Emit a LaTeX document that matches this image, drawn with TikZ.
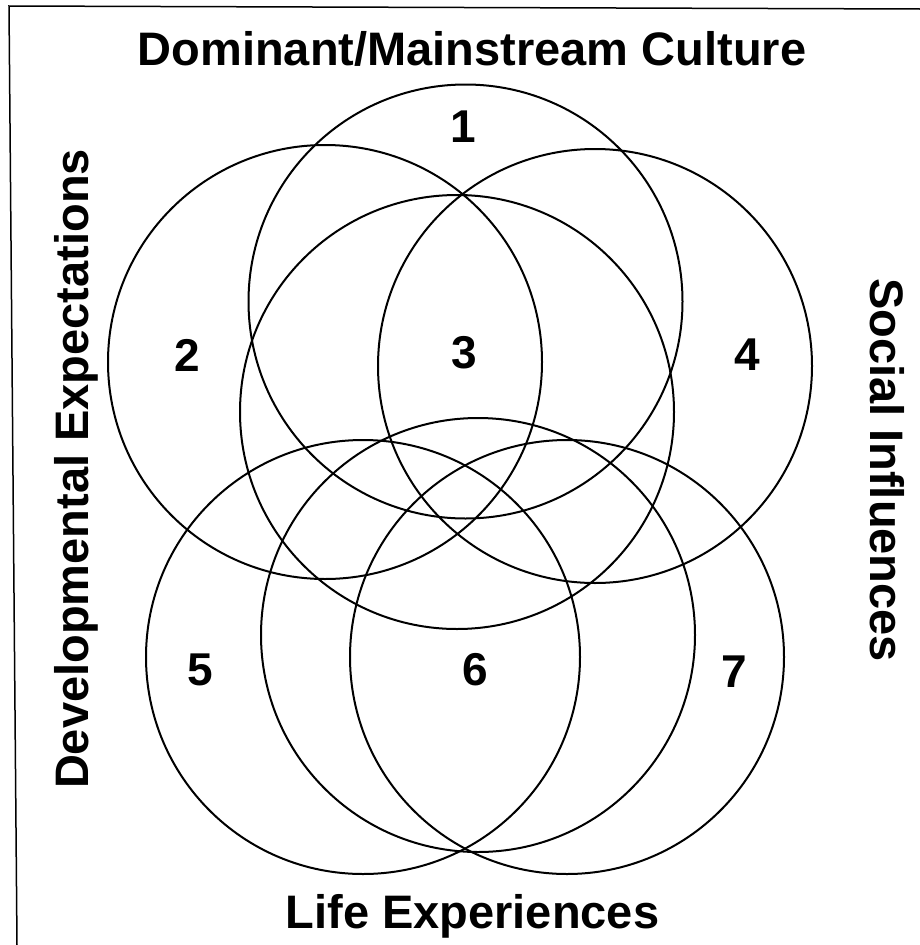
\documentclass[tikz,border=0pt]{standalone}
\usepackage{fontspec}
\setmainfont{Liberation Sans}
\usepackage{tikz}

\tikzset{
  venn/.style={shape=circle,draw,line width=2pt,minimum size=434pt,inner sep=0pt},
  region/.style={font=\fontsize{46}{46}\selectfont\bfseries,inner sep=0pt},
  heading/.style={font=\fontsize{47}{47}\selectfont\bfseries,anchor=base,inner sep=0pt},
}

\begin{document}
\begin{tikzpicture}[x=1pt,y=-1pt]
\useasboundingbox (0,0) rectangle (920,945);
% frame, only the top and left edge show
\coordinate (frametl) at (9,6);
\coordinate (framebl) at (17,945);
\coordinate (frametr) at (920,9);
\draw[line width=1.5pt] (framebl) -- (frametl) -- (frametr);
% upper group
\node (culture) at (465.5,301.5) [venn] {};
\node (devel) at (325,362) [venn] {};
\node (social) at (595,366) [venn] {};
\node (core) at (457,412) [venn] {};
% lower group
\node (lifeleft) at (363,657) [venn] {};
\node (lifemid) at (478,635) [venn] {};
\node (liferight) at (567,657) [venn] {};
% region numbers
\node (r1) at (463,127) [region] {1};
\node (r2) at (187,355) [region] {2};
\node (r3) at (464,353) [region] {3};
\node (r4) at (747,355) [region] {4};
\node (r5) at (200,670) [region] {5};
\node (r6) at (475,670) [region] {6};
\node (r7) at (734,672) [region] {7};
% headings
\node (culturetext) at (472,65) [heading] {Dominant/Mainstream Culture};
\node (lifetext) at (472.5,928) [heading] {Life Experiences};
\node (develtext) at (88,469) [heading,rotate=90] {Developmental Expectations};
\node (socialtext) at (870,470) [heading,rotate=-90] {Social Influences};
\end{tikzpicture}
\end{document}
